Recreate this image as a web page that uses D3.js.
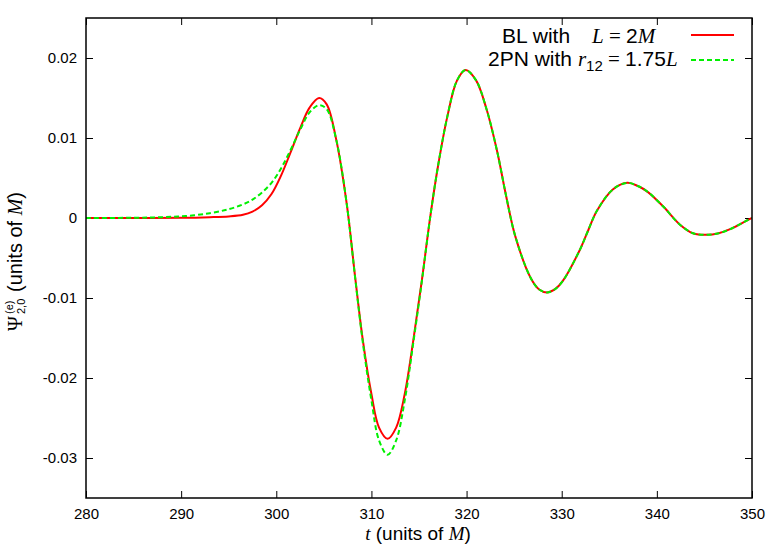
<!DOCTYPE html>
<html>
<head>
<meta charset="utf-8">
<script src="https://cdn.jsdelivr.net/npm/d3@7"></script>
<style>
  body { margin: 0; background: #fff; }
  svg { display: block; }
  text { font-family: "Liberation Sans", Arial, sans-serif; fill: #000; }
  .math { font-family: "Liberation Serif", "Times New Roman", serif; }
</style>
</head>
<body>
<svg width="778" height="545"></svg>
<script>
// BL with L = 2M (red, solid)
const tBL = [280, 285, 290, 293, 295, 296.5, 297.5, 298.5, 299.5, 300.5, 301.5, 302.5, 303.5, 304.5, 305.3,
  306.3, 307.4, 308.3, 309.1, 310.0, 310.8, 311.7, 312.6, 313.5, 314.4, 315.3, 316.2, 317.0, 318.0, 319.0,
  319.9, 321.0, 322.1, 323.2, 324.2, 325.1, 326.7, 327.6, 328.45, 329.3, 330.1, 331.9, 332.8, 333.7, 335.4, 336.9,
  338.0, 339.0, 340.7, 342.4, 343.8, 345.2, 346.5, 347.7, 349, 350];
const psiBL = [0, 0, 0.00002, 0.0001, 0.0002, 0.0004, 0.0008, 0.0016, 0.003, 0.0053, 0.0082, 0.0112, 0.0138, 0.015, 0.0142,
  0.0098, 0.0018, -0.0075, -0.0153, -0.022, -0.0262, -0.0276, -0.0262, -0.022, -0.0153, -0.0078, 0.0003, 0.0065, 0.0128, 0.0172,
  0.0185, 0.0172, 0.0136, 0.0084, 0.0025, -0.0022, -0.0074, -0.0089, -0.0093, -0.0089, -0.0079, -0.0040, -0.0015, 0.0009, 0.0036, 0.0044,
  0.004, 0.0033, 0.0014, -0.0008, -0.0019, -0.0021, -0.0019, -0.0014, -0.0006, 0];

// 2PN with r12 = 1.75L (green, dashed)
const tPN = [280, 285, 288, 290.5, 293, 295, 296.5, 297.5, 298.5, 299.5, 300.5, 301.5, 302.5, 303.5, 304.5, 305.3,
  306.3, 307.4, 308.3, 309.1, 310.0, 310.8, 311.7, 312.6, 313.5, 314.4, 315.3, 316.2, 317.0, 318.0, 319.0,
  319.9, 321.0, 322.1, 323.2, 324.2, 325.1, 326.7, 327.6, 328.45, 329.3, 330.1, 331.9, 332.8, 333.7, 335.4, 336.9,
  338.0, 339.0, 340.7, 342.4, 343.8, 345.2, 346.5, 347.7, 349, 350];
const psiPN = [0, 0.00003, 0.0001, 0.00025, 0.0006, 0.0011, 0.0017, 0.0023, 0.0032, 0.0044, 0.0062, 0.0085, 0.011, 0.0132, 0.0141, 0.0136,
  0.0098, 0.0018, -0.0076, -0.0156, -0.0228, -0.0278, -0.0296, -0.0278, -0.0228, -0.0156, -0.0079, 0.0003, 0.0065, 0.0128, 0.0172,
  0.0185, 0.0172, 0.0136, 0.0084, 0.0025, -0.0022, -0.0074, -0.0089, -0.0093, -0.0089, -0.0079, -0.0040, -0.0015, 0.0009, 0.0036, 0.0044,
  0.004, 0.0033, 0.0014, -0.0008, -0.0019, -0.0021, -0.0019, -0.0014, -0.0006, 0];

const xTicks = [280, 290, 300, 310, 320, 330, 340, 350];
const yTicks = [-0.03, -0.02, -0.01, 0, 0.01, 0.02];
const yTickLabels = ["-0.03", "-0.02", "-0.01", "0", "0.01", "0.02"];

const svg = d3.select("svg");
const pLeft = 86, pRight = 752, pTop = 18, pBottom = 498;

const x = d3.scaleLinear().domain([280, 350]).range([pLeft, pRight]);
const y = d3.scaleLinear().domain([-0.035, 0.025]).range([pBottom, pTop]);

svg.append("clipPath").attr("id", "clip")
  .append("rect").attr("x", pLeft).attr("y", pTop).attr("width", pRight - pLeft).attr("height", pBottom - pTop);

// ticks (gnuplot style: inward, mirrored)
const tickLen = 7;
const axB = svg.append("g").attr("transform", `translate(0,${pBottom})`)
  .call(d3.axisBottom(x).tickValues(xTicks).tickSize(-tickLen).tickPadding(10).tickFormat(d3.format("d")));
const axT = svg.append("g").attr("transform", `translate(0,${pTop})`)
  .call(d3.axisTop(x).tickValues(xTicks).tickSize(-tickLen).tickFormat(""));
const axL = svg.append("g").attr("transform", `translate(${pLeft},0)`)
  .call(d3.axisLeft(y).tickValues(yTicks).tickSize(-tickLen).tickPadding(9).tickFormat((d, i) => yTickLabels[i]));
const axR = svg.append("g").attr("transform", `translate(${pRight},0)`)
  .call(d3.axisRight(y).tickValues(yTicks).tickSize(-tickLen).tickFormat(""));

[axB, axT, axL, axR].forEach(g => {
  g.select(".domain").remove();
  g.selectAll(".tick line").attr("stroke", "#000").attr("stroke-width", 1);
  g.selectAll("text").style("font-size", "15px").attr("font-family", null);
});
axB.selectAll("text").attr("dy", "0.71em");

// curves
const line = d3.line()
  .x(d => x(d[0]))
  .y(d => y(d[1]))
  .curve(d3.curveCatmullRom.alpha(0.5));

const plot = svg.append("g").attr("clip-path", "url(#clip)");
plot.append("path")
  .attr("d", line(d3.zip(tBL, psiBL)))
  .attr("fill", "none").attr("stroke", "#ff0000").attr("stroke-width", 2);
plot.append("path")
  .attr("d", line(d3.zip(tPN, psiPN)))
  .attr("fill", "none").attr("stroke", "#00f000").attr("stroke-width", 2)
  .attr("stroke-dasharray", "5,3");

// frame
svg.append("rect")
  .attr("x", pLeft).attr("y", pTop).attr("width", pRight - pLeft).attr("height", pBottom - pTop)
  .attr("fill", "none").attr("stroke", "#000").attr("stroke-width", 1.5);

// legend
const leg = svg.append("g");
const row1 = leg.append("text").attr("x", 502).attr("y", 43).style("font-size", "21px");
row1.append("tspan").text("BL with");
row1.append("tspan").attr("class", "math").attr("x", 592).style("font-style", "italic").text("L");
row1.append("tspan").attr("class", "math").text(" = ");
row1.append("tspan").text("2");
row1.append("tspan").attr("class", "math").style("font-style", "italic").text("M");

const row2 = leg.append("text").attr("x", 488).attr("y", 66).style("font-size", "21px");
row2.append("tspan").text("2PN with ");
row2.append("tspan").attr("class", "math").style("font-style", "italic").text("r");
row2.append("tspan").attr("dy", 5).style("font-size", "15px").text("12");
row2.append("tspan").attr("class", "math").attr("dy", -5).text(" = ");
row2.append("tspan").text("1.75");
row2.append("tspan").attr("class", "math").style("font-style", "italic").text("L");

leg.append("line").attr("x1", 691).attr("x2", 734).attr("y1", 35).attr("y2", 35)
  .attr("stroke", "#ff0000").attr("stroke-width", 2);
leg.append("line").attr("x1", 691).attr("x2", 734).attr("y1", 60).attr("y2", 60)
  .attr("stroke", "#00f000").attr("stroke-width", 2).attr("stroke-dasharray", "5,3");

// x label
const xl = svg.append("text").attr("x", 418).attr("y", 540)
  .attr("text-anchor", "middle").style("font-size", "19px");
xl.append("tspan").attr("class", "math").style("font-style", "italic").text("t");
xl.append("tspan").text(" (units of ");
xl.append("tspan").attr("class", "math").style("font-style", "italic").text("M");
xl.append("tspan").text(")");

// y label
const yl = svg.append("g").attr("transform", "translate(22,257) rotate(-90)");
yl.append("text").attr("class", "math").attr("x", -74).attr("y", 0).style("font-size", "20px").text("Ψ");
yl.append("text").attr("x", -57).attr("y", -9).style("font-size", "11px").text("(e)");
yl.append("text").attr("x", -57).attr("y", 3).style("font-size", "11px").text("2,0");
const yl2 = yl.append("text").attr("x", -35).attr("y", 0).style("font-size", "20px");
yl2.append("tspan").text("(units of ");
yl2.append("tspan").attr("class", "math").style("font-style", "italic").text("M");
yl2.append("tspan").text(")");
</script>
</body>
</html>
